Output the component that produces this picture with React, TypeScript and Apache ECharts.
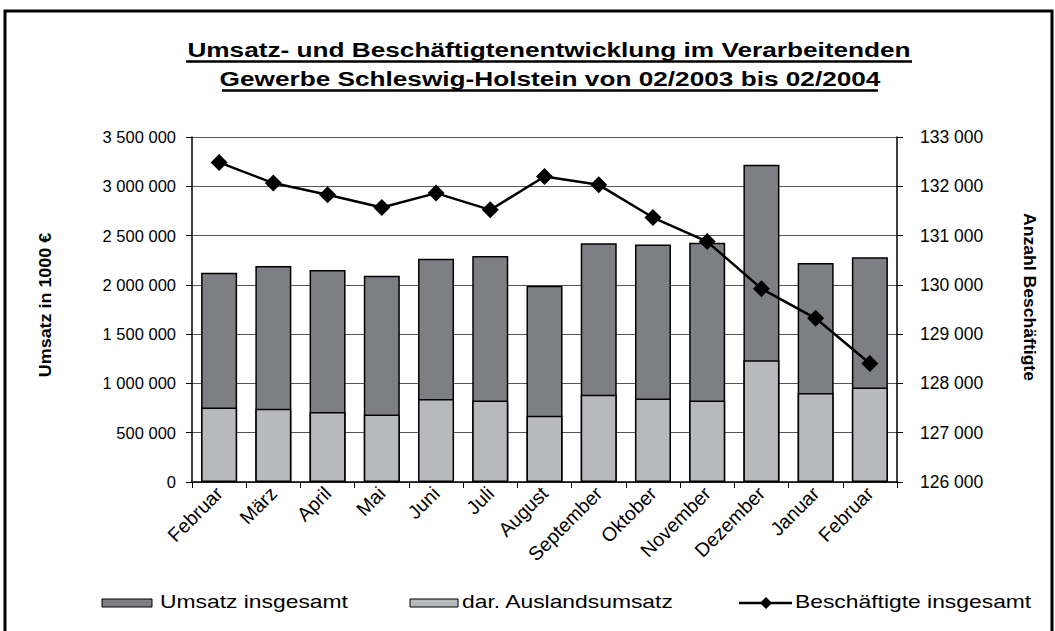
import React, { useEffect, useRef } from "react";
import * as echarts from "echarts";

const categories = [
  "Februar", "März", "April", "Mai", "Juni", "Juli", "August",
  "September", "Oktober", "November", "Dezember", "Januar", "Februar",
];
const umsatzInsgesamt = [
  2124000, 2192000, 2151000, 2093000, 2266000, 2294000, 1992000,
  2423000, 2409000, 2426000, 3218000, 2222000, 2280000,
];
const auslandsumsatz = [
  756000, 742000, 711000, 685000, 843000, 827000, 671000,
  884000, 848000, 827000, 1234000, 904000, 959000,
];
const beschaeftigte = [
  132484, 132065, 131827, 131569, 131862, 131522, 132199,
  132030, 131366, 130878, 129923, 129321, 128406,
];
const titleLines = [
  "Umsatz- und Beschäftigtenentwicklung im Verarbeitenden",
  "Gewerbe Schleswig-Holstein von 02/2003 bis 02/2004",
];
const seriesNames = ["Umsatz insgesamt", "dar. Auslandsumsatz", "Beschäftigte insgesamt"];
const axisNames = ["Umsatz in 1000 €", "Anzahl Beschäftigte"];

const FONT = "Liberation Sans, Arial, sans-serif";
const DARK = "#7e7f85";
const LIGHT = "#b8b9bd";

function fmt(v: number): string {
  return String(Math.round(v)).replace(/\B(?=(\d{3})+(?!\d))/g, " ");
}

export default function App() {
  const ref = useRef<HTMLDivElement>(null);
  useEffect(() => {
    if (!ref.current) return;
    const chart = echarts.init(ref.current, null, { renderer: "svg" });
    const legendFont = { fontFamily: FONT, fontSize: 18, fill: "#000" };
    chart.setOption({
      animation: false,
      backgroundColor: "#fff",
      textStyle: { fontFamily: FONT },
      graphic: [
        {
          type: "rect",
          shape: { x: 5, y: 11, width: 1047, height: 640 },
          style: { fill: "none", stroke: "#000", lineWidth: 3 },
          silent: true,
        },
        {
          type: "text",
          x: 549,
          y: 50,
          scaleX: 1.31,
          style: {
            text: titleLines[0],
            fontFamily: FONT,
            fontSize: 20,
            fontWeight: "bold",
            fill: "#000",
            align: "center",
            verticalAlign: "middle",
          },
        },
        {
          type: "text",
          x: 550,
          y: 79,
          scaleX: 1.31,
          style: {
            text: titleLines[1],
            fontFamily: FONT,
            fontSize: 20,
            fontWeight: "bold",
            fill: "#000",
            align: "center",
            verticalAlign: "middle",
          },
        },
        {
          type: "line",
          shape: { x1: 186, y1: 61.5, x2: 912, y2: 61.5 },
          style: { stroke: "#000", lineWidth: 2.5 },
        },
        {
          type: "line",
          shape: { x1: 222, y1: 90.5, x2: 878, y2: 90.5 },
          style: { stroke: "#000", lineWidth: 2.5 },
        },
        {
          type: "text",
          x: 46,
          y: 305,
          rotation: Math.PI / 2,
          scaleX: 1.12,
          style: {
            text: axisNames[0],
            fontFamily: FONT,
            fontSize: 16,
            fontWeight: "bold",
            fill: "#000",
            align: "center",
            verticalAlign: "middle",
          },
        },
        {
          type: "text",
          x: 1029,
          y: 297,
          rotation: -Math.PI / 2,
          scaleX: 1.1,
          style: {
            text: axisNames[1],
            fontFamily: FONT,
            fontSize: 16,
            fontWeight: "bold",
            fill: "#000",
            align: "center",
            verticalAlign: "middle",
          },
        },
        // legend
        {
          type: "rect",
          shape: { x: 102, y: 599, width: 50, height: 8 },
          style: { fill: DARK, stroke: "#000", lineWidth: 1 },
        },
        {
          type: "text",
          x: 160,
          y: 601,
          scaleX: 1.27,
          style: { ...legendFont, text: seriesNames[0], align: "left", verticalAlign: "middle" },
        },
        {
          type: "rect",
          shape: { x: 410, y: 599, width: 48, height: 8 },
          style: { fill: LIGHT, stroke: "#000", lineWidth: 1 },
        },
        {
          type: "text",
          x: 462,
          y: 601,
          scaleX: 1.27,
          style: { ...legendFont, text: seriesNames[1], align: "left", verticalAlign: "middle" },
        },
        {
          type: "line",
          shape: { x1: 739, y1: 603, x2: 792, y2: 603 },
          style: { stroke: "#000", lineWidth: 2.5 },
        },
        {
          type: "polygon",
          shape: { points: [[766, 597], [772, 603], [766, 609], [760, 603]] },
          style: { fill: "#000" },
        },
        {
          type: "text",
          x: 795,
          y: 601,
          scaleX: 1.27,
          style: { ...legendFont, text: seriesNames[2], align: "left", verticalAlign: "middle" },
        },
      ],
      grid: { left: 192, right: 158, top: 137, bottom: 149 },
      xAxis: {
        type: "category",
        data: categories,
        boundaryGap: true,
        axisLine: { lineStyle: { color: "#000", width: 1.5 } },
        axisTick: { show: true, length: 6, lineStyle: { color: "#000" } },
        axisLabel: {
          rotate: 45,
          interval: 0,
          fontFamily: FONT,
          fontSize: 19.5,
          color: "#000",
          margin: 8,
        },
      },
      yAxis: [
        {
          type: "value",
          min: 0,
          max: 3500000,
          interval: 500000,
          axisLine: { show: true, lineStyle: { color: "#000", width: 1.5 } },
          axisTick: { show: true, length: 6, lineStyle: { color: "#000" } },
          splitLine: { show: true, lineStyle: { color: "#555", width: 1.2 } },
          axisLabel: {
            formatter: (v: number) => fmt(v),
            fontFamily: FONT,
            fontSize: 16.5,
            color: "#000",
            margin: 16,
          },
        },
        {
          type: "value",
          min: 126000,
          max: 133000,
          interval: 1000,
          position: "right",
          axisLine: { show: true, lineStyle: { color: "#000", width: 1.5 } },
          axisTick: { show: true, length: 6, lineStyle: { color: "#000" } },
          splitLine: { show: false },
          axisLabel: {
            formatter: (v: number) => fmt(v),
            fontFamily: FONT,
            fontSize: 17.5,
            color: "#000",
            margin: 23,
          },
        },
      ],
      series: [
        {
          name: seriesNames[0],
          type: "bar",
          data: umsatzInsgesamt,
          barWidth: 36,
          barGap: "-100%",
          itemStyle: { color: DARK, borderColor: "#000", borderWidth: 1.5 },
        },
        {
          name: seriesNames[1],
          type: "bar",
          data: auslandsumsatz,
          barWidth: 36,
          barGap: "-100%",
          itemStyle: { color: LIGHT, borderColor: "#000", borderWidth: 1.5 },
        },
        {
          name: seriesNames[2],
          type: "line",
          yAxisIndex: 1,
          data: beschaeftigte,
          symbol: "diamond",
          symbolSize: 17,
          lineStyle: { color: "#000", width: 2.5 },
          itemStyle: { color: "#000" },
          z: 5,
        },
      ],
    });
    return () => chart.dispose();
  }, []);
  return (
    <div
      ref={ref}
      style={{ position: "fixed", left: 0, top: 0, width: 1055, height: 631 }}
    />
  );
}
